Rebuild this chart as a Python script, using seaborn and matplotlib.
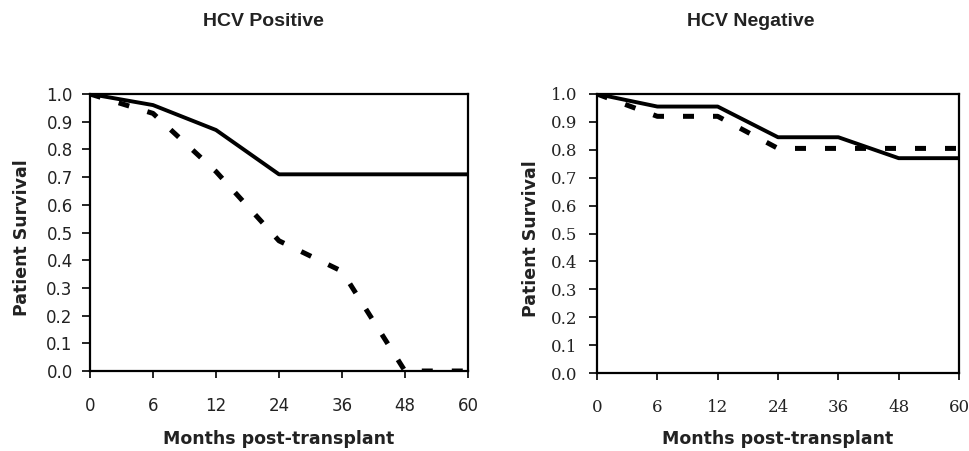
import matplotlib
matplotlib.use("Agg")
import matplotlib.pyplot as plt
import seaborn as sns
import pandas as pd

months = ["0", "6", "12", "24", "36", "48", "60"]
pos_solid = [1.0, 0.96, 0.87, 0.71, 0.71, 0.71, 0.71]
pos_dashed = [1.0, 0.93, 0.72, 0.47, 0.36, 0.0, 0.0]
neg_solid = [1.0, 0.955, 0.955, 0.845, 0.845, 0.77, 0.77]
neg_dashed = [1.0, 0.92, 0.92, 0.805, 0.805, 0.805, 0.805]
y_ticks = [0.0, 0.1, 0.2, 0.3, 0.4, 0.5, 0.6, 0.7, 0.8, 0.9, 1.0]
titles = ["HCV Positive", "HCV Negative"]
x_label = "Months post-transplant"
y_label = "Patient Survival"

sns.set_theme(style="white")
plt.rcParams['font.family'] = ['DejaVu Sans']

W, H = 969, 451
fig = plt.figure(figsize=(W / 100, H / 100), dpi=100)


def box(l, r, t, b):
    return [l / W, 1 - b / H, (r - l) / W, (b - t) / H]


ax1 = fig.add_axes(box(90, 468, 94, 371))
ax2 = fig.add_axes(box(597, 959, 94, 373))


def draw(ax, solid, dashed, tickfont, ypad, top_px, bottom_px, ylab_x_px, left_px, right_px):
    df_s = pd.DataFrame({"m": months, "s": solid})
    df_d = pd.DataFrame({"m": months, "s": dashed})
    sns.lineplot(data=df_s, x="m", y="s", ax=ax, color="black",
                 linewidth=2.8, legend=False, sort=False)
    sns.lineplot(data=df_d, x="m", y="s", ax=ax, color="black",
                 linewidth=3.6, legend=False, sort=False)
    ax.lines[1].set_dashes([2.2, 3.8])
    ax.lines[1].set_dash_capstyle("butt")
    ax.set_xlim(0, len(months) - 1)
    ax.set_ylim(0, 1.0)
    ax.set_yticks(y_ticks)
    ax.set_yticklabels([f"{t:.1f}" for t in y_ticks])
    for lab in ax.get_xticklabels() + ax.get_yticklabels():
        lab.set_fontfamily(tickfont)
        lab.set_fontsize(12)
        lab.set_color("#222222")
    ax.tick_params(axis="x", direction="out", length=5, width=1.2, color="black",
                   bottom=True, pad=14)
    ax.tick_params(axis="y", direction="out", length=6, width=1.2, color="black",
                   left=True, pad=ypad)
    for sp in ax.spines.values():
        sp.set_visible(True)
        sp.set_color("black")
        sp.set_linewidth(1.6)
    ax.set_xlabel(x_label, fontsize=12.5, fontweight="bold", color="#222222")
    ax.set_ylabel(y_label, fontsize=12.5, fontweight="bold", color="#222222")
    h = bottom_px - top_px
    ax.xaxis.set_label_coords(0.5, (bottom_px - 430) / h)
    ax.yaxis.set_label_coords((ylab_x_px - left_px) / (right_px - left_px), 0.48)
    ax.grid(False)
    ax.set_facecolor("white")


draw(ax1, pos_solid, pos_dashed, "DejaVu Sans", 6.5, 94, 371, 31, 90, 468)
draw(ax2, neg_solid, neg_dashed, "DejaVu Serif", 8, 94, 373, 540, 597, 959)

fig.text(263.5 / W, 1 - 21 / H, titles[0], ha="center", va="center",
         fontsize=14, fontweight="bold", family="Liberation Sans", color="#222222")
fig.text(751 / W, 1 - 21 / H, titles[1], ha="center", va="center",
         fontsize=14, fontweight="bold", family="Liberation Sans", color="#222222")

fig.savefig("out.png", dpi=100, facecolor="white")
